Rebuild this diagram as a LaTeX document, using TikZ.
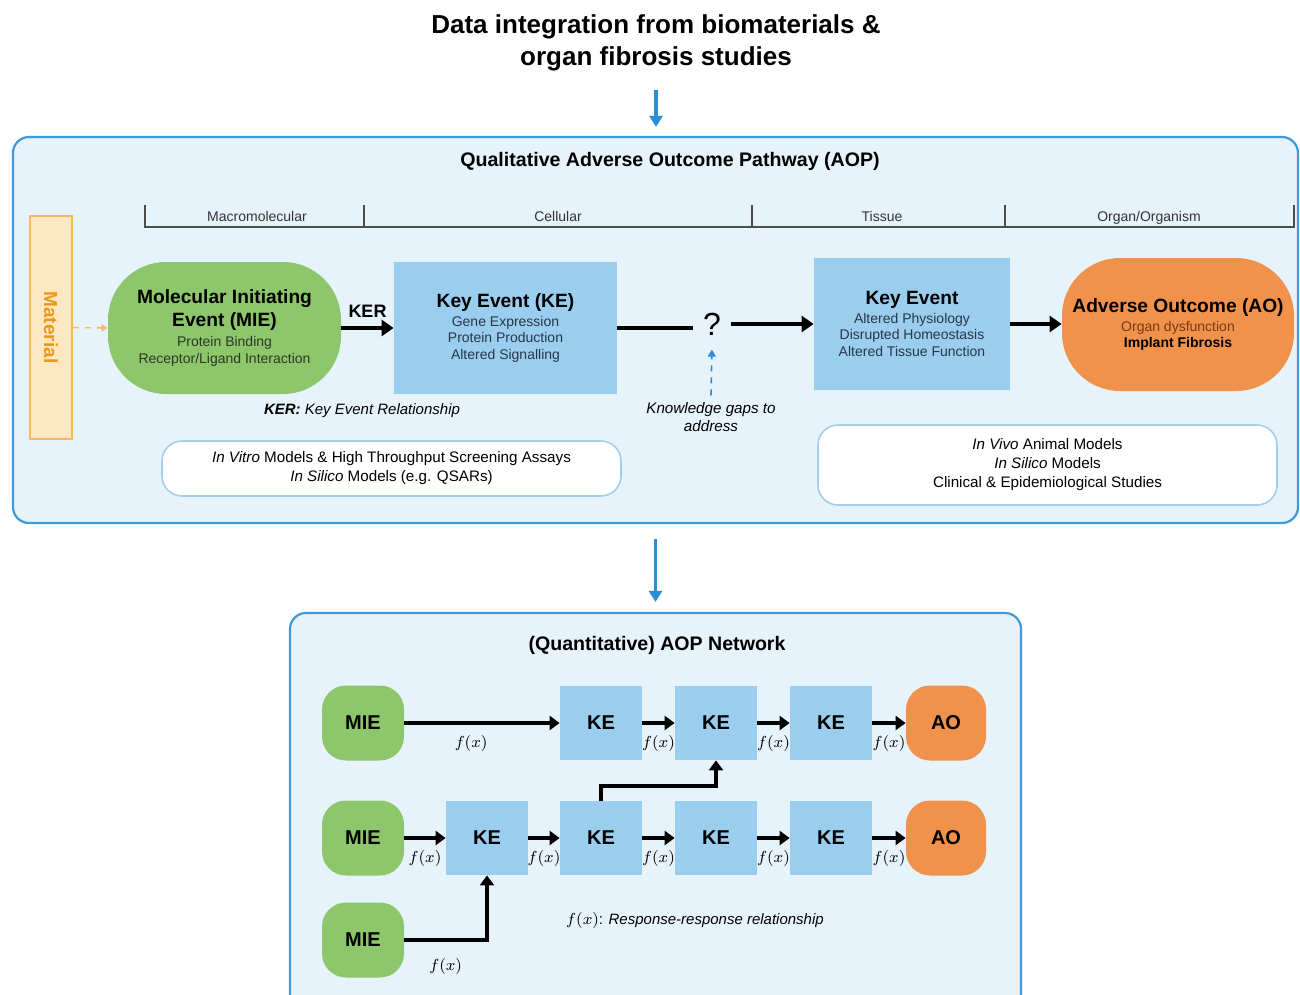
\documentclass[tikz,border=0pt]{standalone}
\usepackage{fontspec}
\setmainfont{Liberation Sans}
\usetikzlibrary{arrows.meta,positioning}
\definecolor{panelfill}{HTML}{E7F3FB}
\definecolor{panelline}{HTML}{3F9BD7}
\definecolor{flowblue}{HTML}{2A8FD5}
\definecolor{miegreen}{HTML}{8DC66B}
\definecolor{keblue}{HTML}{9BCDEE}
\definecolor{aoorange}{HTML}{F0924B}
\definecolor{matfill}{HTML}{FDE8C2}
\definecolor{matline}{HTML}{F3BA62}
\definecolor{mattext}{HTML}{EE961C}
\definecolor{noteline}{HTML}{A3CEEA}
\definecolor{subgreen}{HTML}{2A3A22}
\definecolor{subblue}{HTML}{26374A}
\definecolor{subbrown}{HTML}{7A3814}
\newcommand\headfont{\color{black}\bfseries\fontsize{9.6}{12}\selectfont}
\newcommand\subfont{\fontsize{7}{8.2}\selectfont}
\begin{document}
\begin{tikzpicture}[x=0.5pt, y=-0.5pt,
  panel/.style={draw=panelline, line width=1.1pt, fill=panelfill, rounded corners=8pt},
  note/.style={draw=noteline, line width=0.8pt, fill=white, rounded corners=10pt, align=center, font=\fontsize{7.6}{9.5}\selectfont},
  miebig/.style={fill=miegreen, rounded corners=29pt, minimum width=116.5pt, minimum height=66pt, align=center, font=\subfont, text=subgreen},
  kebig/.style={fill=keblue, minimum height=66pt, align=center, font=\subfont, text=subblue},
  aobig/.style={fill=aoorange, rounded corners=29pt, minimum width=116pt, minimum height=66.5pt, align=center, font=\subfont, text=subbrown},
  flow/.style={line width=2.3pt, -{Triangle[length=6pt,width=8pt]}},
  link/.style={line width=2pt, -{Triangle[length=5pt,width=7pt]}},
  down/.style={draw=flowblue, line width=1.6pt, -{Triangle[length=5.5pt,width=6.5pt]}},
  levelbar/.style={draw=black!70, line width=0.6pt},
  levelname/.style={font=\fontsize{7}{8}\selectfont, text=black!80, anchor=base},
  mie/.style={fill=miegreen, rounded corners=12pt, minimum width=41pt, minimum height=37.5pt, font=\bfseries\fontsize{10}{12}\selectfont},
  ke/.style={fill=keblue, minimum width=41pt, minimum height=37pt, font=\bfseries\fontsize{10}{12}\selectfont},
  ao/.style={fill=aoorange, rounded corners=12pt, minimum width=40pt, minimum height=37.5pt, font=\bfseries\fontsize{10}{12}\selectfont},
  fx/.style={font=\fontsize{8.5}{10}\selectfont, inner sep=1pt}
]
\fill[white] (0,0) rectangle (1300,995);
\useasboundingbox (0,0) rectangle (1300,995);

% title and first panel
\node[font=\bfseries\fontsize{13}{16}\selectfont, align=center] (title) at (656,43) {Data integration from biomaterials \&\\organ fibrosis studies};
\node[panel, minimum width=642.5pt, minimum height=193pt] (aop) at (655.5,330) {};
\draw[down, shorten <=6pt, shorten >=4.5pt] (title.south) -- (title.south |- aop.north);
\node[font=\bfseries\fontsize{9.8}{12}\selectfont] (aoptitle) at (670,161) {Qualitative Adverse Outcome Pathway (AOP)};

% biological levels
\draw[levelbar] (145,205) -- (145,227) -- (1294,227) -- (1294,205);
\foreach \x in {364,752,1005}
  \draw[levelbar] (\x,205) -- (\x,227);
\node[levelname] (lvmacro) at (257,221) {Macromolecular};
\node[levelname] (lvcell) at (558,221) {Cellular};
\node[levelname] (lvtissue) at (882,221) {Tissue};
\node[levelname] (lvorgan) at (1149,221) {Organ/Organism};

% qualitative pathway
\node[fill=matfill, draw=matline, line width=0.8pt, rotate=-90, minimum width=111.5pt, minimum height=21pt,
  font=\bfseries\fontsize{9.5}{11}\selectfont, text=mattext] (mat) at (51,327.5) {Material};
\node[miebig] (mie) at (224.5,328) {\headfont Molecular Initiating\\[1.5pt]\headfont Event (MIE)\\[2pt]Protein Binding\\Receptor/Ligand Interaction};
\node[kebig, minimum width=111.5pt] (ke1) at (505.5,328) {\headfont Key Event (KE)\\[1pt]Gene Expression\\Protein Production\\Altered Signalling};
\node[font=\fontsize{16}{18}\selectfont, inner sep=5pt] (gap) at (712,324) {?};
\node[kebig, minimum width=98pt] (ke2) at (912,324) {\headfont Key Event\\[1pt]Altered Physiology\\Disrupted Homeostasis\\Altered Tissue Function};
\node[aobig] (ao) at (1178,324.5) {\headfont Adverse Outcome (AO)\\[1pt]Organ dysfunction\\\color{black}\bfseries Implant Fibrosis};

\draw[matline, dashed, line width=0.7pt, -{Triangle[length=3pt,width=3.5pt]}] (mat.north) -- (mie.west);
\draw[flow] (mie.east) -- node[above=1pt, font=\bfseries\fontsize{9}{11}\selectfont] (kerlabel) {KER} (ke1.west);
\draw[line width=2.3pt] (ke1.east) -- (ke1.east -| gap.west);
\draw[flow] (gap.east) -- (gap.east -| ke2.west);
\draw[flow] (ke2.east) -- (ke2.east -| ao.west);

\node[font=\itshape\fontsize{7.6}{9}\selectfont, align=center] (gaptext) at (711,417) {Knowledge gaps to\\address};
\draw[flowblue, dashed, line width=0.8pt, -{Triangle[length=3.5pt,width=4pt]}, shorten >=2pt] (gaptext.north) -- (gap.south);
\node[font=\fontsize{7.5}{9}\selectfont] (kercap) at (362,411) {\textbf{\textit{KER:}} \textit{Key Event Relationship}};

\node[note, minimum width=229.5pt, minimum height=27.5pt] (invitro) at (391.5,468.5) {\textit{In Vitro} Models \& High Throughput Screening Assays\\\textit{In Silico} Models (e.g. QSARs)};
\node[note, minimum width=229.5pt, minimum height=40pt] (invivo) at (1047.5,465) {\textit{In Vivo} Animal Models\\\textit{In Silico} Models\\Clinical \& Epidemiological Studies};

% quantitative network
\node[panel, minimum width=365.5pt, minimum height=198.5pt] (net) at (655.5,811.5) {};
\draw[down, shorten <=7.5pt, shorten >=5pt] (aop.south) -- (aop.south |- net.north);
\node[font=\bfseries\fontsize{9.8}{12}\selectfont] (nettitle) at (657,645) {(Quantitative) AOP Network};

\node[mie] (mieA) at (363,723) {MIE};
\node[ke] (keA1) at (601,723) {KE};
\node[ke] (keA2) at (716,723) {KE};
\node[ke] (keA3) at (831,723) {KE};
\node[ao] (aoA) at (946,723) {AO};

\node[mie] (mieB) at (363,838) {MIE};
\node[ke] (keB1) at (487,838) {KE};
\node[ke] (keB2) at (601,838) {KE};
\node[ke] (keB3) at (716,838) {KE};
\node[ke] (keB4) at (831,838) {KE};
\node[ao] (aoB) at (946,838) {AO};

\node[mie] (mieC) at (363,940) {MIE};

\draw[link] (mieA) -- node[fx, below=4pt, pos=0.43] (fxA0) {$f(x)$} (keA1);
\draw[link] (keA1) -- node[fx, below=4pt] (fxA1) {$f(x)$} (keA2);
\draw[link] (keA2) -- node[fx, below=4pt] (fxA2) {$f(x)$} (keA3);
\draw[link] (keA3) -- node[fx, below=4pt] (fxA3) {$f(x)$} (aoA);

\draw[link] (mieB) -- node[fx, below=4pt] (fxB0) {$f(x)$} (keB1);
\draw[link] (keB1) -- node[fx, below=4pt] (fxB1) {$f(x)$} (keB2);
\draw[link] (keB2) -- node[fx, below=4pt] (fxB2) {$f(x)$} (keB3);
\draw[link] (keB3) -- node[fx, below=4pt] (fxB3) {$f(x)$} (keB4);
\draw[link] (keB4) -- node[fx, below=4pt] (fxB4) {$f(x)$} (aoB);

\draw[link] (keB2.north) -- ++(0,-15) -| (keA2.south);
\draw[link] (mieC.east) -| node[fx, below=7pt, pos=0.25] (fxC) {$f(x)$} (keB1.south);

\node[font=\fontsize{7.5}{9}\selectfont] (fxkey) at (695,920) {{\fontsize{8.5}{10}\selectfont$f(x)$}: \textit{Response-response relationship}};
\end{tikzpicture}
\end{document}
